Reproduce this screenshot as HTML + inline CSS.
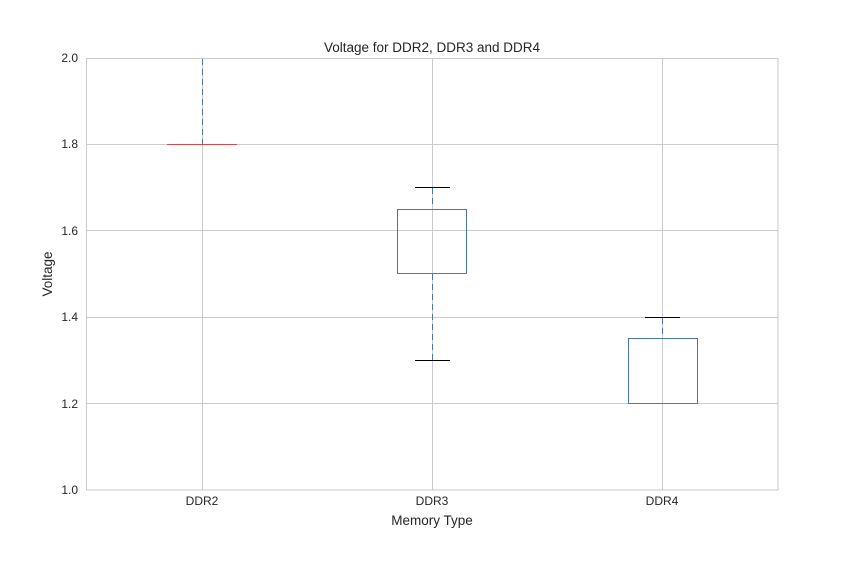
<!DOCTYPE html>
<html><head><style>body{margin:0;background:#fff}</style></head><body>
<svg width="864" height="576" xmlns="http://www.w3.org/2000/svg" font-family="Liberation Sans, Arial, sans-serif">
<rect width="864" height="576" fill="#fff"/>
<g stroke="#cbcbcb" stroke-width="1">
<line x1="87" y1="144.5" x2="778" y2="144.5"/>
<line x1="87" y1="230.5" x2="778" y2="230.5"/>
<line x1="87" y1="317.5" x2="778" y2="317.5"/>
<line x1="87" y1="403.5" x2="778" y2="403.5"/>
<line x1="202.5" y1="58" x2="202.5" y2="490"/>
<line x1="432.5" y1="58" x2="432.5" y2="490"/>
<line x1="662.5" y1="58" x2="662.5" y2="490"/>
<rect x="86.5" y="58.5" width="691.5" height="431.5" fill="none"/>
</g>
<g stroke="#4c72b0" stroke-width="1" stroke-dasharray="6,4" fill="none">
<line x1="202.5" y1="59" x2="202.5" y2="144"/>
<line x1="432.5" y1="188" x2="432.5" y2="208"/>
<line x1="432.5" y1="274" x2="432.5" y2="360"/>
<line x1="662.5" y1="318" x2="662.5" y2="338"/>
</g>
<g stroke="#4c72b0" stroke-width="1" fill="none">
<rect x="397.5" y="209.5" width="69" height="64"/>
<rect x="628.5" y="338.5" width="69" height="65"/>
</g>
<g stroke="#000" stroke-width="1">
<line x1="415" y1="187.5" x2="450" y2="187.5"/>
<line x1="415" y1="360.5" x2="450" y2="360.5"/>
<line x1="645" y1="317.5" x2="680" y2="317.5"/>
</g>
<g stroke="#d44a4a" stroke-width="1">
<line x1="167" y1="144.5" x2="237" y2="144.5"/>
<line x1="397" y1="273.5" x2="467" y2="273.5"/>
<line x1="628" y1="403.5" x2="698" y2="403.5"/>
</g>
<g font-size="12" fill="#262626">
<text x="78" y="62" text-anchor="end">2.0</text>
<text x="78" y="148" text-anchor="end">1.8</text>
<text x="78" y="235" text-anchor="end">1.6</text>
<text x="78" y="321" text-anchor="end">1.4</text>
<text x="78" y="408" text-anchor="end">1.2</text>
<text x="78" y="494" text-anchor="end">1.0</text>
<text x="202" y="505" text-anchor="middle">DDR2</text>
<text x="432" y="505" text-anchor="middle">DDR3</text>
<text x="662" y="505" text-anchor="middle">DDR4</text>
</g>
<text x="432" y="525" font-size="13.5" text-anchor="middle" fill="#262626">Memory Type</text>
<text x="52" y="274" font-size="13.5" text-anchor="middle" fill="#262626" transform="rotate(-90 52 274)">Voltage</text>
<text x="432" y="52" font-size="13.5" text-anchor="middle" fill="#262626">Voltage for DDR2, DDR3 and DDR4</text>
</svg>
</body></html>
